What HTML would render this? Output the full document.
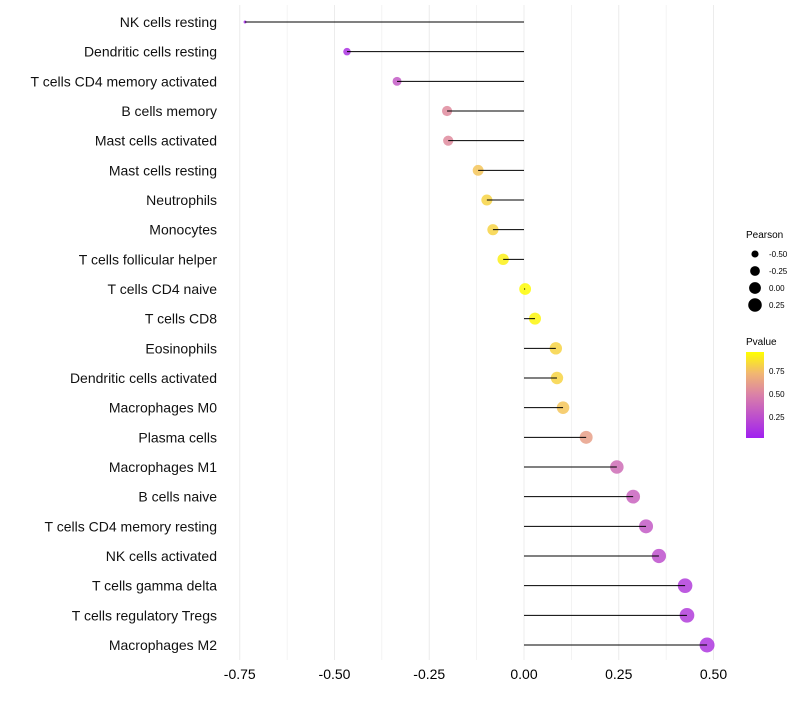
<!DOCTYPE html>
<html><head><meta charset="utf-8"><style>
body{margin:0;background:#fff;font-family:"Liberation Sans",sans-serif}
svg text{font-family:"Liberation Sans",sans-serif}
</style></head><body>
<svg id="chart" width="800" height="700" xmlns="http://www.w3.org/2000/svg">
<defs><linearGradient id="pg" x1="0" y1="1" x2="0" y2="0">
<stop offset="0" stop-color="#A020F0"/><stop offset="0.5" stop-color="#DA80A8"/><stop offset="0.75" stop-color="#F1B672"/><stop offset="1" stop-color="#FFFF00"/></linearGradient></defs>
<g id="grid"></g><g id="marks"></g><g id="labels"></g>
<g font-size="9">
<text x="746" y="238" font-size="10">Pearson</text>
</g>
<g id="legp"></g>
<g>
<text x="746" y="345" font-size="10">Pvalue</text>
<rect x="746" y="352" width="18" height="86" fill="url(#pg)"/>
<text x="769" y="374" font-size="8">0.75</text>
<text x="769" y="397" font-size="8">0.50</text>
<text x="769" y="420" font-size="8">0.25</text>
</g>
</svg>
<script>
const categories=["NK cells resting","Dendritic cells resting","T cells CD4 memory activated","B cells memory","Mast cells activated","Mast cells resting","Neutrophils","Monocytes","T cells follicular helper","T cells CD4 naive","T cells CD8","Eosinophils","Dendritic cells activated","Macrophages M0","Plasma cells","Macrophages M1","B cells naive","T cells CD4 memory resting","NK cells activated","T cells gamma delta","T cells regulatory  Tregs ","Macrophages M2"];
const pearson=[-0.736,-0.467,-0.335,-0.203,-0.2,-0.121,-0.098,-0.082,-0.055,0.003,0.029,0.084,0.087,0.103,0.164,0.245,0.288,0.322,0.356,0.425,0.43,0.483];
const pvalue=[0.05,0.1,0.3,0.55,0.55,0.8,0.85,0.85,0.95,0.99,0.97,0.85,0.85,0.8,0.65,0.4,0.35,0.3,0.25,0.15,0.15,0.12];
const xTicks=[-0.75,-0.5,-0.25,0,0.25,0.5];
const xTickLabels=["-0.75","-0.50","-0.25","0.00","0.25","0.50"];
const legendSizes=[-0.5,-0.25,0,0.25];
const legendLabels=["-0.50","-0.25","0.00","0.25"];
const NS="http://www.w3.org/2000/svg";
const X=v=>524+v*379;
const Y=i=>22+i*(623/21);
const R=v=>Math.sqrt(2.2+(v+0.736)/1.22*54);
function lerp(a,b,t){return a.map((c,i)=>Math.round(c+(b[i]-c)*t));}
function col(p){const s=[[0,[160,32,240]],[0.5,[218,128,168]],[0.75,[241,182,114]],[1,[255,255,0]]];
 for(let k=1;k<s.length;k++){if(p<=s[k][0]){const t=(p-s[k-1][0])/(s[k][0]-s[k-1][0]);return "rgb("+lerp(s[k-1][1],s[k][1],t).join(",")+")";}}return "rgb(255,255,0)";}
function mk(tag,at,parent){const e=document.createElementNS(NS,tag);for(const k in at)e.setAttribute(k,at[k]);parent.appendChild(e);return e;}
const grid=document.getElementById('grid'),marks=document.getElementById('marks'),labels=document.getElementById('labels');
for(let v=-0.875;v<=0.626;v+=0.125){const x=X(v);if(x<222||x>728)continue;
 const g=mk('line',{x1:x,x2:x,y1:5,y2:660,stroke:'#ececec','stroke-width':Math.abs(v/0.25-Math.round(v/0.25))<0.01?1:0.6},grid);
 
 }
xTicks.forEach((v,i)=>{const t=mk('text',{x:X(v),y:679,'text-anchor':'middle','font-size':14,fill:'#000'},labels);t.textContent=xTickLabels[i];
 
 });
categories.forEach((c,i)=>{const y=Y(i);
 const t=mk('text',{x:217,y:y+5,'text-anchor':'end','font-size':14,fill:'#111'},labels);t.textContent=c;
 
 
 const p=mk('circle',{cx:X(pearson[i]),cy:y,r:R(pearson[i]),fill:col(pvalue[i]),'fill-opacity':0.85},marks);
 
 
 const l=mk('line',{x1:X(0),x2:X(pearson[i]),y1:y,y2:y,stroke:'#000','stroke-width':1},marks);
 
 });
const legp=document.getElementById('legp');
legendSizes.forEach((v,i)=>{const y=254+i*17;
 const c=mk('circle',{cx:755,cy:y,r:R(v),fill:'#000'},legp);
 
 
 const t=mk('text',{x:769,y:y+3,'font-size':8},legp);t.textContent=legendLabels[i];
 
 });
</script>
</body></html>
